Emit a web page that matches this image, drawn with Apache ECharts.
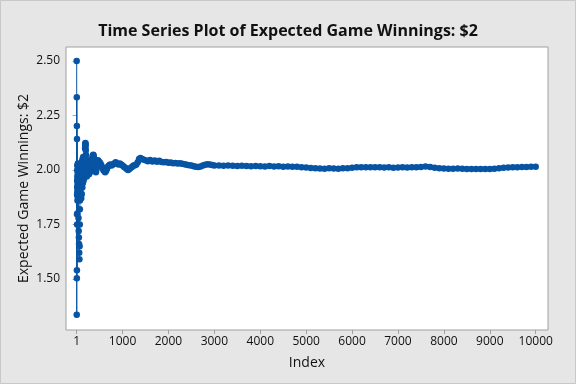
<!DOCTYPE html>
<html>
<head>
<meta charset="utf-8">
<script src="https://cdn.jsdelivr.net/npm/echarts@6/dist/echarts.min.js"></script>
<style>
html,body{margin:0;padding:0;background:#e6e6e6;}
#c{width:576px;height:384px;}
</style>
</head>
<body>
<div id="c"></div>
<script>
const titleText = 'Time Series Plot of Expected Game Winnings: $2';
const xName = 'Index';
const yName = 'Expected Game Winnings: $2';
const xTicks = [1, 1000, 2000, 3000, 4000, 5000, 6000, 7000, 8000, 9000, 10000];
const yTicks = [1.50, 1.75, 2.00, 2.25, 2.50];

const gameIndex = [
  1, 2, 3, 4, 5, 6, 7, 8, 9, 10, 11, 12, 13, 14, 15, 16, 17, 18, 19, 20,
  21, 22, 23, 24, 25, 26, 27, 28, 30, 32, 34, 36, 38, 40, 44, 48, 52, 56, 60, 64,
  68, 70, 72, 74, 76, 78, 80, 82, 85, 87, 90, 92, 95, 97, 100, 103, 106, 109, 112, 115,
  118, 121, 124, 127, 130, 133, 136, 139, 142, 145, 148, 151, 154, 157, 160, 166, 172, 178, 184, 187,
  190, 193, 196, 199, 202, 205, 208, 211, 214, 220, 225, 230, 235, 240, 250, 260, 270, 280, 290, 300,
  308, 315, 322, 330, 338, 345, 352, 360, 368, 375, 382, 390, 398, 405, 412, 420, 428, 435, 450, 465,
  480, 500, 520, 540, 560, 580, 600, 620, 640, 660, 680, 700, 730, 760, 790, 820, 850, 880, 910, 940,
  970, 1000, 1030, 1060, 1090, 1120, 1150, 1180, 1210, 1240, 1270, 1300, 1330, 1360, 1390, 1420, 1450, 1500, 1550, 1600,
  1650, 1700, 1750, 1800, 1850, 1900, 1950, 2000, 2050, 2100, 2150, 2200, 2250, 2300, 2350, 2400, 2450, 2500, 2550, 2600,
  2650, 2700, 2750, 2800, 2850, 2900, 2950, 3000, 3100, 3200, 3300, 3400, 3500, 3600, 3700, 3800, 3900, 4000, 4100, 4200,
  4300, 4400, 4500, 4600, 4700, 4800, 4900, 5000, 5100, 5200, 5300, 5400, 5500, 5600, 5700, 5800, 5900, 6000, 6100, 6200,
  6300, 6400, 6500, 6600, 6700, 6800, 6900, 7000, 7100, 7200, 7300, 7400, 7500, 7600, 7700, 7800, 7900, 8000, 8100, 8200,
  8300, 8400, 8500, 8600, 8700, 8800, 8900, 9000, 9100, 9200, 9300, 9400, 9500, 9600, 9700, 9800, 9900, 10000
];
const winnings = [
  2.500, 1.336, 2.334, 1.503, 2.202, 1.540, 2.142, 1.797, 1.886, 1.750, 1.950, 1.920, 2.000, 1.800, 1.900, 1.970, 2.020, 1.860, 1.930, 2.020,
  1.960, 1.890, 1.880, 1.990, 1.940, 2.030, 1.980, 1.910, 1.870, 1.950, 2.010, 1.970, 1.920, 1.780, 1.720, 1.690, 1.660, 1.620, 1.590, 1.650,
  1.750, 1.820, 1.860, 1.930, 2.020, 1.960, 1.870, 1.910, 2.030, 1.980, 1.880, 1.940, 2.020, 1.970, 1.870, 1.930, 2.030, 1.960, 1.890, 1.990,
  2.040, 1.970, 1.920, 2.000, 2.050, 1.990, 1.940, 2.010, 2.060, 2.000, 1.950, 1.990, 2.030, 1.990, 1.960, 2.000, 1.970, 2.040, 2.100, 2.115,
  2.124, 2.120, 2.110, 2.090, 2.070, 2.050, 2.030, 2.010, 1.990, 1.970, 2.000, 1.980, 2.000, 2.020, 1.980, 2.020, 1.980, 2.010, 1.990, 2.000,
  2.010, 2.020, 2.030, 2.040, 2.050, 2.060, 2.065, 2.070, 2.068, 2.060, 2.045, 2.030, 2.015, 2.000, 1.995, 1.990, 2.000, 2.010, 2.030, 2.045,
  2.040, 2.035, 2.030, 2.020, 2.010, 2.000, 1.995, 1.990, 1.995, 2.005, 2.015, 2.020, 2.025, 2.020, 2.025, 2.030, 2.035, 2.030, 2.025, 2.030,
  2.025, 2.020, 2.015, 2.010, 2.005, 2.000, 2.005, 2.010, 2.015, 2.020, 2.022, 2.025, 2.035, 2.050, 2.055, 2.050, 2.048, 2.045, 2.040, 2.046,
  2.039, 2.043, 2.038, 2.042, 2.036, 2.035, 2.037, 2.033, 2.034, 2.031, 2.032, 2.030, 2.031, 2.028, 2.026, 2.024, 2.022, 2.020, 2.017, 2.015,
  2.014, 2.016, 2.020, 2.024, 2.026, 2.025, 2.023, 2.021, 2.020, 2.019, 2.020, 2.019, 2.018, 2.019, 2.018, 2.017, 2.018, 2.017, 2.016, 2.018,
  2.016, 2.017, 2.015, 2.016, 2.015, 2.015, 2.013, 2.011, 2.009, 2.008, 2.007, 2.006, 2.008, 2.007, 2.006, 2.008, 2.008, 2.010, 2.012, 2.012,
  2.013, 2.012, 2.012, 2.013, 2.011, 2.012, 2.010, 2.011, 2.012, 2.011, 2.012, 2.013, 2.014, 2.016, 2.014, 2.010, 2.008, 2.007, 2.006, 2.006,
  2.007, 2.006, 2.005, 2.005, 2.004, 2.005, 2.004, 2.005, 2.006, 2.008, 2.010, 2.011, 2.012, 2.013, 2.014, 2.014, 2.015, 2.015
];

const seriesData = gameIndex.map((x, i) => [x, winnings[i]]);
const FONT = '"Open Sans", "Noto Sans", sans-serif';
const BLUE = '#0754a4';

const chart = echarts.init(document.getElementById('c'), null, {renderer: 'canvas'});
chart.setOption({
  animation: false,
  backgroundColor: '#e6e6e6',
  title: {
    text: titleText,
    left: 'center',
    top: 18,
    textStyle: {fontFamily: FONT, fontSize: 16, fontWeight: 'bold', color: '#111'}
  },
  graphic: [{
    type: 'rect',
    shape: {x: 0.5, y: 0.5, width: 575, height: 383},
    style: {fill: 'none', stroke: '#c8c8c8', lineWidth: 1},
    silent: true
  }],
  grid: {
    left: 66, right: 28, top: 47, bottom: 54,
    show: true, backgroundColor: '#ffffff', borderColor: '#a0a0a0', borderWidth: 1
  },
  xAxis: {
    type: 'value',
    min: -232, max: 10268,
    name: xName,
    nameLocation: 'middle',
    nameGap: 26,
    nameMoveOverlap: false,
    nameTextStyle: {fontFamily: FONT, fontSize: 14, color: '#111'},
    axisLine: {show: false},
    axisTick: {show: true, length: 4, lineStyle: {color: '#a0a0a0'}, customValues: xTicks},
    axisLabel: {fontFamily: FONT, fontSize: 12, color: '#111', margin: 6, customValues: xTicks,
      formatter: v => String(v)},
    splitLine: {show: false}
  },
  yAxis: {
    type: 'value',
    min: 1.266, max: 2.564,
    name: yName,
    nameLocation: 'middle',
    nameGap: 35,
    nameMoveOverlap: false,
    nameTextStyle: {fontFamily: FONT, fontSize: 14, color: '#111'},
    axisLine: {show: false},
    axisTick: {show: true, length: 4, lineStyle: {color: '#a0a0a0'}, customValues: yTicks},
    axisLabel: {fontFamily: FONT, fontSize: 12, color: '#111', margin: 6, customValues: yTicks,
      formatter: v => v.toFixed(2)},
    splitLine: {show: false}
  },
  series: [{
    type: 'line',
    data: seriesData,
    symbol: 'circle',
    symbolSize: 6.5,
    showSymbol: true,
    showAllSymbol: true,
    lineStyle: {color: BLUE, width: 1},
    itemStyle: {color: BLUE},
    emphasis: {disabled: true}
  }]
});
</script>
</body>
</html>
